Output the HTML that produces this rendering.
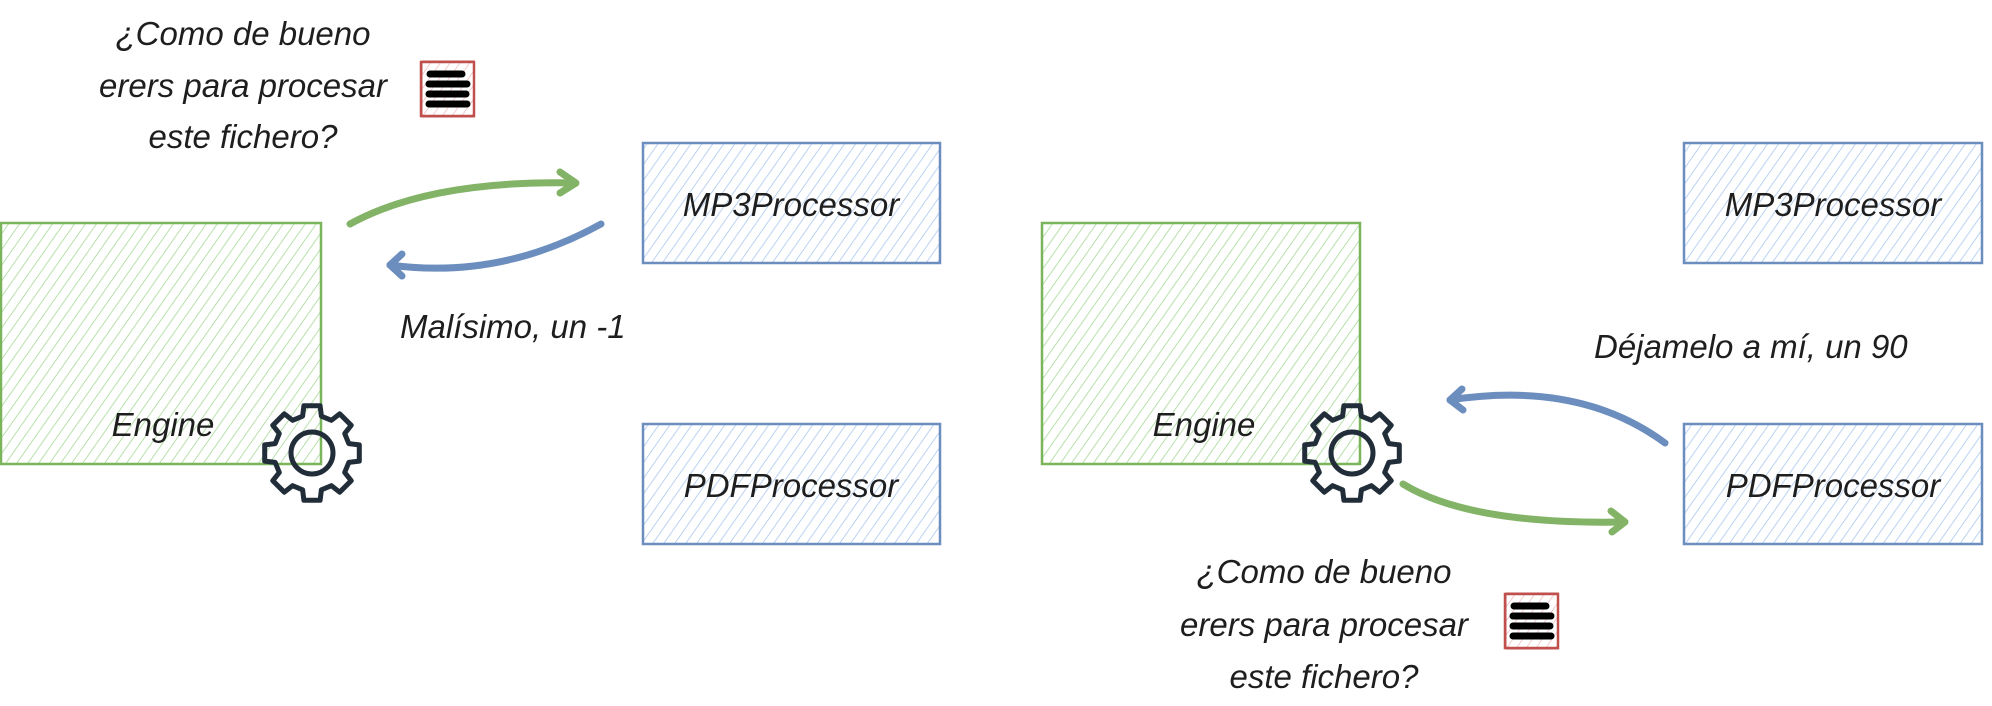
<!DOCTYPE html>
<html><head><meta charset="utf-8"><style>
html,body{margin:0;padding:0;background:#fff;width:1992px;height:706px;overflow:hidden}
svg{display:block}
text{font-family:"Liberation Sans",sans-serif;font-style:italic;fill:#1e1e1e}
</style></head><body>
<svg width="1992" height="706" viewBox="0 0 1992 706" xmlns="http://www.w3.org/2000/svg">
<defs>
<pattern id="hg" width="9" height="9" patternUnits="userSpaceOnUse" patternTransform="rotate(35)">
<line x1="0" y1="0" x2="0" y2="9" stroke="#a6d897" stroke-width="1.6"/></pattern>
<pattern id="hb" width="9" height="9" patternUnits="userSpaceOnUse" patternTransform="rotate(35)">
<line x1="0" y1="0" x2="0" y2="9" stroke="#a9c8ef" stroke-width="1.6"/></pattern>
<pattern id="hr" width="8" height="8" patternUnits="userSpaceOnUse" patternTransform="rotate(35)">
<line x1="0" y1="0" x2="0" y2="8" stroke="#f0b0b0" stroke-width="1.3"/></pattern>
<g id="doc">
<rect x="0" y="0" width="53" height="54" fill="url(#hr)" stroke="#c0504d" stroke-width="2.5"/>
<rect x="1" y="-1" width="52" height="56" fill="none" stroke="#c0504d" stroke-width="1"/>
<g stroke="#000" stroke-width="7" stroke-linecap="round">
<line x1="9" y1="12" x2="41" y2="12"/><line x1="8" y1="22" x2="46" y2="22"/>
<line x1="8" y1="32" x2="45" y2="32"/><line x1="8" y1="42" x2="46" y2="42"/></g>
</g>
<g id="gear" fill="none" stroke="#222d3a" stroke-width="5" stroke-linejoin="round">
<path id="gp"/>
<circle cx="0" cy="0" r="21"/>
</g>
</defs>

<!-- LEFT -->
<rect x="1" y="223" width="320" height="241" fill="url(#hg)" stroke="#7ab55c" stroke-width="2.5"/>
<rect x="643" y="143" width="297" height="120" fill="url(#hb)" stroke="#6c8ebf" stroke-width="2.5"/>
<rect x="643" y="424" width="297" height="120" fill="url(#hb)" stroke="#6c8ebf" stroke-width="2.5"/>
<text x="163" y="436" font-size="33" text-anchor="middle">Engine</text>
<text x="791" y="216" font-size="33" text-anchor="middle">MP3Processor</text>
<text x="791" y="497" font-size="33" text-anchor="middle">PDFProcessor</text>
<g font-size="33" text-anchor="middle">
<text x="243" y="45">¿Como de bueno</text>
<text x="243" y="97">erers para procesar</text>
<text x="243" y="148">este fichero?</text>
</g>
<use href="#doc" x="421" y="62"/>
<text x="400" y="338" font-size="33">Malísimo, un -1</text>
<path d="M350 224 Q430 180 574 183" fill="none" stroke="#82b366" stroke-width="7" stroke-linecap="round"/>
<path d="M560 172 L576 183 L560 193" fill="none" stroke="#82b366" stroke-width="7" stroke-linecap="round" stroke-linejoin="round"/>
<path d="M601 224 Q500 280 390 265" fill="none" stroke="#6c8ebf" stroke-width="7" stroke-linecap="round"/>
<path d="M402 254 L390 265 L402 276" fill="none" stroke="#6c8ebf" stroke-width="7" stroke-linecap="round" stroke-linejoin="round"/>
<use href="#gear" x="312" y="453"/>

<!-- RIGHT -->
<rect x="1042" y="223" width="318" height="241" fill="url(#hg)" stroke="#7ab55c" stroke-width="2.5"/>
<rect x="1684" y="143" width="298" height="120" fill="url(#hb)" stroke="#6c8ebf" stroke-width="2.5"/>
<rect x="1684" y="424" width="298" height="120" fill="url(#hb)" stroke="#6c8ebf" stroke-width="2.5"/>
<text x="1204" y="436" font-size="33" text-anchor="middle">Engine</text>
<text x="1833" y="216" font-size="33" text-anchor="middle">MP3Processor</text>
<text x="1833" y="497" font-size="33" text-anchor="middle">PDFProcessor</text>
<text x="1594" y="358" font-size="33">Déjamelo a mí, un 90</text>
<g font-size="33" text-anchor="middle">
<text x="1324" y="583">¿Como de bueno</text>
<text x="1324" y="636">erers para procesar</text>
<text x="1324" y="688">este fichero?</text>
</g>
<use href="#doc" x="1505" y="594"/>
<path d="M1665 443 Q1580 380 1450 400" fill="none" stroke="#6c8ebf" stroke-width="7" stroke-linecap="round"/>
<path d="M1462 389 L1450 400 L1463 410" fill="none" stroke="#6c8ebf" stroke-width="7" stroke-linecap="round" stroke-linejoin="round"/>
<path d="M1403 484 Q1470 525 1624 522" fill="none" stroke="#82b366" stroke-width="7" stroke-linecap="round"/>
<path d="M1611 511 L1625 522 L1612 532" fill="none" stroke="#82b366" stroke-width="7" stroke-linecap="round" stroke-linejoin="round"/>
<use href="#gear" x="1352" y="453"/>
</svg>
<script>
(function(){
var n=8,ro=48,ri=38,pts=[];
for(var i=0;i<n;i++){
var a=i*2*Math.PI/n, t=0.17, g=0.25;
var angs=[[a-g,ri],[a-t,ro],[a+t,ro],[a+g,ri]];
angs.forEach(function(p){pts.push((p[1]*Math.cos(p[0])).toFixed(1)+','+(p[1]*Math.sin(p[0])).toFixed(1));});
}
document.getElementById('gp').setAttribute('d','M'+pts.join(' L')+' Z');
})();
</script>
</body></html>
